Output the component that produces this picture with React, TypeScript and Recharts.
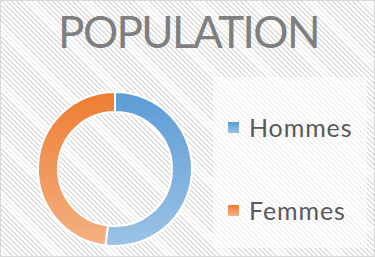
import { PieChart, Pie, Cell, Legend } from 'recharts'

const categories = ['Hommes', 'Femmes']
const values = [52, 48]
const topColors = ['#5B9BD5', '#ED7D31']
const bottomColors = ['#9DC3E6', '#F4B183']

const data = categories.map((name, i) => ({ name, value: values[i] }))

const W = 375
const H = 257

function LegendBox() {
  return (
    <div
      style={{
        width: 154,
        height: 171,
        background: 'rgba(255,255,255,0.5)',
        position: 'relative',
      }}
    >
      {categories.map((name, i) => (
        <div
          key={name}
          style={{
            position: 'absolute',
            left: 15,
            top: i === 0 ? 35 : 118,
            display: 'flex',
            alignItems: 'center',
            fontFamily: 'Lato, sans-serif',
            fontSize: 25,
            letterSpacing: 0.9,
            color: '#595959',
            lineHeight: '30px',
          }}
        >
          <span
            style={{
              width: 11,
              height: 11,
              marginRight: 10,
              background: `linear-gradient(${topColors[i]}, ${bottomColors[i]})`,
              display: 'inline-block',
            }}
          />
          {name}
        </div>
      ))}
    </div>
  )
}

export default function App() {
  return (
    <div
      style={{
        position: 'fixed',
        top: 0,
        left: 0,
        width: W,
        height: H,
        boxSizing: 'border-box',
        border: '1px solid #d9d9d9',
        background:
          'repeating-linear-gradient(45deg, #dedede 0px, #dedede 1.3px, #ffffff 1.3px, #ffffff 3.6px)',
      }}
    >
      <div
        style={{
          position: 'absolute',
          left: 0,
          top: 4,
          width: W,
          textAlign: 'center',
          fontFamily: 'Lato, sans-serif',
          fontSize: 44,
          letterSpacing: -1.6,
          color: '#7f7f7f',
          lineHeight: '52px',
        }}
      >
        POPULATION
      </div>
      <div style={{ position: 'absolute', left: -1, top: -1 }}>
        <PieChart width={W} height={H} margin={{ top: 0, right: 0, bottom: 0, left: 0 }}>
          <defs>
            {categories.map((name, i) => (
              <linearGradient key={name} id={`grad${i}`} x1="0" y1="0" x2="0" y2="1">
                <stop offset="0%" stopColor={topColors[i]} />
                <stop offset="100%" stopColor={bottomColors[i]} />
              </linearGradient>
            ))}
          </defs>
          <Pie
            data={data}
            dataKey="value"
            nameKey="name"
            cx={115}
            cy={169}
            innerRadius={57}
            outerRadius={77}
            startAngle={90}
            endAngle={-270}
            stroke="#ffffff"
            strokeWidth={2}
            isAnimationActive={false}
          >
            {data.map((d, i) => (
              <Cell key={d.name} fill={`url(#grad${i})`} />
            ))}
          </Pie>
          <Legend
            content={() => <LegendBox />}
            wrapperStyle={{ left: 213, top: 77, width: 154, height: 171 }}
          />
        </PieChart>
      </div>
    </div>
  )
}
